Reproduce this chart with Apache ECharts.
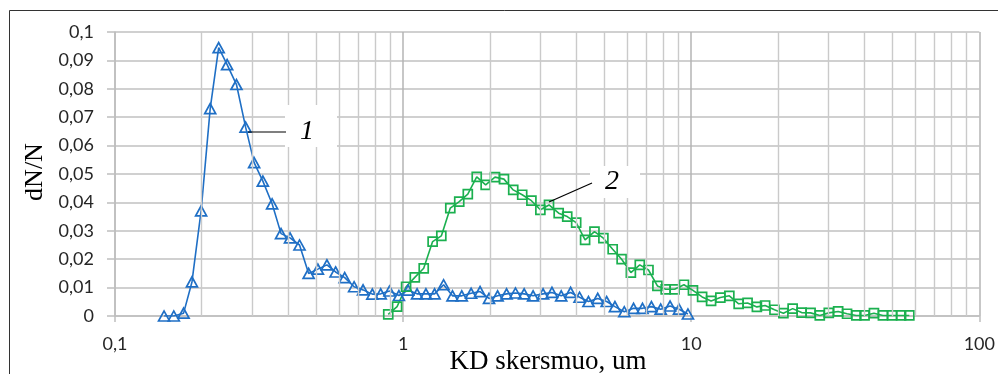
<!DOCTYPE html>
<html>
<head>
<meta charset="utf-8">
<script src="https://cdn.jsdelivr.net/npm/echarts@6/dist/echarts.min.js"></script>
<style>
html,body{margin:0;padding:0;background:#fff;}
#chart{width:998px;height:374px;}
</style>
</head>
<body>
<div id="chart"></div>
<script>
// ---- Data ----
const blueX = [0.148,0.160,0.173,0.185,0.199,0.214,0.229,0.245,0.264,0.284,0.304,0.326,0.351,0.377,0.405,0.437,0.470,0.506,0.544,0.583,0.627,0.676,0.726,0.782,0.836,0.897,0.967,1.041,1.118,1.200,1.286,1.382,1.484,1.598,1.722,1.850,1.987,2.128,2.286,2.455,2.631,2.826,3.060,3.286,3.538,3.814,4.097,4.399,4.737,5.088,5.435,5.857,6.307,6.774,7.275,7.834,8.444,9.071,9.741];
const blueY = [0,0,0.001,0.012,0.037,0.073,0.0945,0.0885,0.0815,0.0665,0.054,0.0475,0.0395,0.029,0.0275,0.025,0.015,0.0165,0.018,0.0155,0.0135,0.0103,0.0092,0.0077,0.0078,0.0088,0.0072,0.0091,0.0078,0.0078,0.0078,0.011,0.0071,0.0071,0.008,0.0086,0.0062,0.0071,0.0078,0.0081,0.0078,0.0071,0.0078,0.0083,0.0071,0.0083,0.0066,0.0051,0.0062,0.0051,0.0033,0.0015,0.0027,0.0027,0.0033,0.0024,0.0035,0.0024,0.0007];
const greenX = [0.888,0.953,1.024,1.098,1.179,1.266,1.357,1.458,1.566,1.677,1.801,1.934,2.084,2.239,2.411,2.590,2.788,2.995,3.209,3.467,3.712,3.987,4.282,4.615,4.956,5.338,5.734,6.173,6.629,7.106,7.631,8.153,8.756,9.436,10.14,10.91,11.72,12.62,13.56,14.61,15.69,16.90,18.05,19.45,20.89,22.49,24.16,25.96,27.94,30.02,32.36,34.74,37.41,39.96,43.07,46.27,49.82,53.51,57.15];
const greenY = [0.0006,0.0033,0.0103,0.0136,0.0168,0.0262,0.0282,0.038,0.0403,0.0429,0.049,0.0462,0.0489,0.0482,0.0444,0.0427,0.0406,0.0374,0.0391,0.0362,0.035,0.0329,0.0268,0.0297,0.0274,0.0235,0.02,0.0153,0.018,0.0162,0.0106,0.0094,0.0094,0.011,0.009,0.0067,0.0053,0.0065,0.0071,0.0043,0.0046,0.0032,0.0037,0.0022,0.001,0.0026,0.0012,0.0011,0.0002,0.0011,0.0016,0.0008,0.0002,0.0002,0.001,0.0002,0.0002,0.0002,0.0002];
const yTickLabels = ['0','0,01','0,02','0,03','0,04','0,05','0,06','0,07','0,08','0,09','0,1'];
const xTickValues = [0.1,1,10,100];
const xTickLabels = ['0,1','1','10','100'];
const minorGridValues = [0.2,0.3,0.4,0.5,0.6,0.7,0.8,0.9,2,3,4,5,6,7,8,9,20,30,40,50,60,70,80,90];
const seriesNames = ['1','2'];
const xTitle = 'KD skersmuo, um';
const yTitle = 'dN/N';

const BLUE = '#1f6fc5';
const GREEN = '#1bb04f';

const chart = echarts.init(document.getElementById('chart'), null, {renderer:'canvas'});
const pair = (xs, ys) => xs.map((x,i)=>[x, ys[i]]);

chart.setOption({
  animation:false,
  backgroundColor:'#fff',
  grid:{left:115, right:15, top:32, bottom:58, containLabel:false},
  xAxis:{
    type:'log', logBase:10, min:0.1, max:100,
    axisLine:{show:true, lineStyle:{color:'#bfbfbf', width:1.5}},
    axisTick:{show:true, length:6, lineStyle:{color:'#bfbfbf', width:1.5}},
    axisLabel:{
      margin:19, fontFamily:'Lato', fontSize:18, color:'#262626',
      formatter:function(v){
        for (let i=0;i<xTickValues.length;i++){ if (Math.abs(Math.log10(v)-Math.log10(xTickValues[i]))<1e-6) return xTickLabels[i]; }
        return '';
      }
    },
    splitLine:{show:true, lineStyle:{color:'#b4b4b4', width:1.5}}
  },
  yAxis:{
    type:'value', min:0, max:0.1, interval:0.01,
    axisLine:{show:true, lineStyle:{color:'#bfbfbf', width:1.5}},
    axisTick:{show:true, length:8, lineStyle:{color:'#bfbfbf', width:1.5}},
    axisLabel:{
      margin:21, fontFamily:'Lato', fontSize:18, color:'#262626',
      formatter:function(v){ return yTickLabels[Math.round(v*100)]; }
    },
    splitLine:{show:true, lineStyle:{color:'#c0c0c0', width:1.5}}
  },
  series:[
    {
      type:'line', data:[], silent:true, z:1,
      markLine:{
        silent:true, symbol:['none','none'], label:{show:false},
        lineStyle:{color:'#cacaca', width:1.4, type:'solid'},
        data: minorGridValues.map(v=>({xAxis:v}))
      }
    },
    {
      name:seriesNames[0], type:'line', z:3,
      data: pair(blueX, blueY),
      symbol:'triangle', symbolSize:[11,10], showSymbol:true, showAllSymbol:true,
      lineStyle:{color:BLUE, width:1.6},
      itemStyle:{color:'rgba(255,255,255,0)', borderColor:BLUE, borderWidth:1.7}
    },
    {
      name:seriesNames[1], type:'line', z:3,
      data: pair(greenX, greenY),
      symbol:'rect', symbolSize:9, showSymbol:true, showAllSymbol:true,
      lineStyle:{color:GREEN, width:1.6},
      itemStyle:{color:'rgba(255,255,255,0)', borderColor:GREEN, borderWidth:1.7}
    }
  ],
  graphic:[
    {type:'rect', silent:true, shape:{x:9.5, y:10.5, width:1000, height:400}, style:{fill:'none', stroke:'#333', lineWidth:1}},
    {type:'text', silent:true, x:35, y:172, rotation:Math.PI/2,
      style:{text:yTitle, fontFamily:'Liberation Serif', fontSize:26, fill:'#000', align:'center', verticalAlign:'middle'}},
    {type:'text', silent:true, x:548, y:375,
      style:{text:xTitle, fontFamily:'Liberation Serif', fontSize:27, fill:'#000', align:'center', verticalAlign:'bottom'}},
    {type:'rect', silent:true, z:10, shape:{x:285, y:105, width:52, height:42}, style:{fill:'#fff'}},
    {type:'line', silent:true, z:11, shape:{x1:248, y1:132, x2:286, y2:132}, style:{stroke:'#000', lineWidth:1.2}},
    {type:'text', silent:true, z:11, x:307, y:132,
      style:{text:seriesNames[0], fontFamily:'Liberation Serif', fontStyle:'italic', fontSize:28, fill:'#000', align:'center', verticalAlign:'middle'}},
    {type:'rect', silent:true, z:10, shape:{x:590, y:166, width:50, height:32}, style:{fill:'#fff'}},
    {type:'line', silent:true, z:11, shape:{x1:549, y1:202, x2:592, y2:183}, style:{stroke:'#000', lineWidth:1.2}},
    {type:'text', silent:true, z:11, x:612, y:182,
      style:{text:seriesNames[1], fontFamily:'Liberation Serif', fontStyle:'italic', fontSize:28, fill:'#000', align:'center', verticalAlign:'middle'}}
  ]
});
</script>
</body>
</html>
